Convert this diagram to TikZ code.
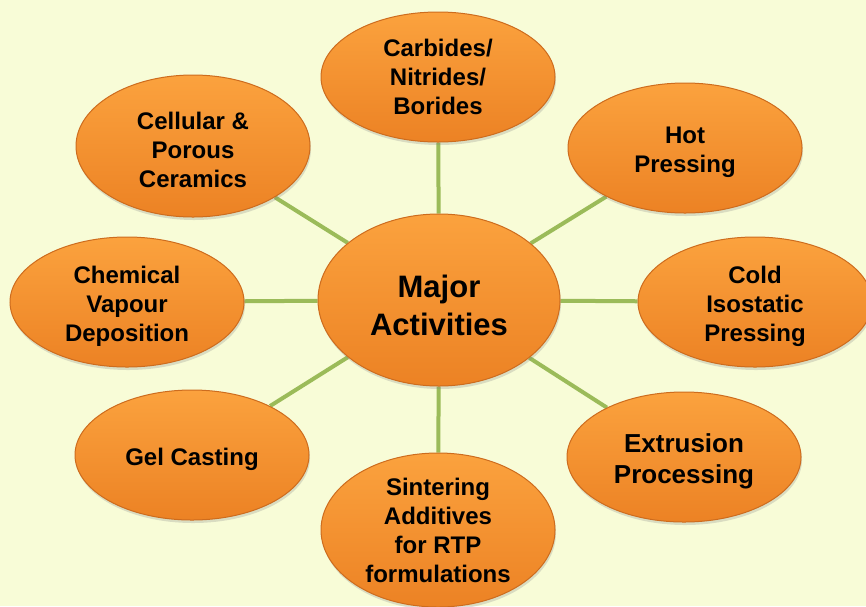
\documentclass[tikz,border=0pt]{standalone}
\usepackage{fontspec}
\setmainfont{Liberation Sans}
\usetikzlibrary{shapes.geometric,backgrounds,shadows}

\definecolor{bgyellow}{RGB}{248,252,215}
\definecolor{linkgreen}{RGB}{155,187,89}
\definecolor{orangetop}{RGB}{251,162,62}
\definecolor{orangebot}{RGB}{236,130,36}
\definecolor{orangeedge}{RGB}{205,108,30}
\newcommand{\lift}{\rule{0pt}{1.05em}}

\begin{document}
\begin{tikzpicture}[x=1pt,y=-1pt,
every node/.style={ellipse,draw=orangeedge,line width=1pt,top color=orangetop,bottom color=orangebot,
  align=center,inner sep=0pt,font=\bfseries\fontsize{24}{29}\selectfont,
  drop shadow={opacity=0.25,shadow xshift=1pt,shadow yshift=-3pt}},
topic/.style={minimum width=234pt,minimum height=130pt},
hub/.style={minimum width=242pt,minimum height=172pt,font=\bfseries\fontsize{31}{38}\selectfont},
link/.style={linkgreen,line width=4pt}]
\useasboundingbox (0,0) rectangle (866,606);

\node[hub] (major) at (439,300) {\lift Major\\Activities};
\node[topic] (carbides) at (438,77) {Carbides/\\Nitrides/\\Borides};
\node[topic] (hot) at (685,148) {\lift Hot\\Pressing};
\node[topic] (cold) at (755,302) {\lift Cold\\Isostatic\\Pressing};
\node[topic,font=\bfseries\fontsize{26}{31}\selectfont] (extrusion) at (684,457) {\lift Extrusion\\Processing};
\node[topic,minimum height=154pt] (sintering) at (438,530) {Sintering\\Additives\\for RTP\\formulations};
\node[topic] (gel) at (192,455) {\lift Gel Casting};
\node[topic] (cvd) at (127,302) {\lift Chemical\\Vapour\\Deposition};
\node[topic,minimum height=142pt] (cellular) at (193,146) {\lift Cellular \&\\Porous\\Ceramics};

\begin{scope}[on background layer]
\fill[bgyellow] (0,0) rectangle (866,606);
\draw[link] (major) -- (carbides);
\draw[link] (major) -- (hot);
\draw[link] (major) -- (cold);
\draw[link] (major) -- (extrusion);
\draw[link] (major) -- (sintering);
\draw[link] (major) -- (gel);
\draw[link] (major) -- (cvd);
\draw[link] (major) -- (cellular);
\end{scope}
\end{tikzpicture}
\end{document}
